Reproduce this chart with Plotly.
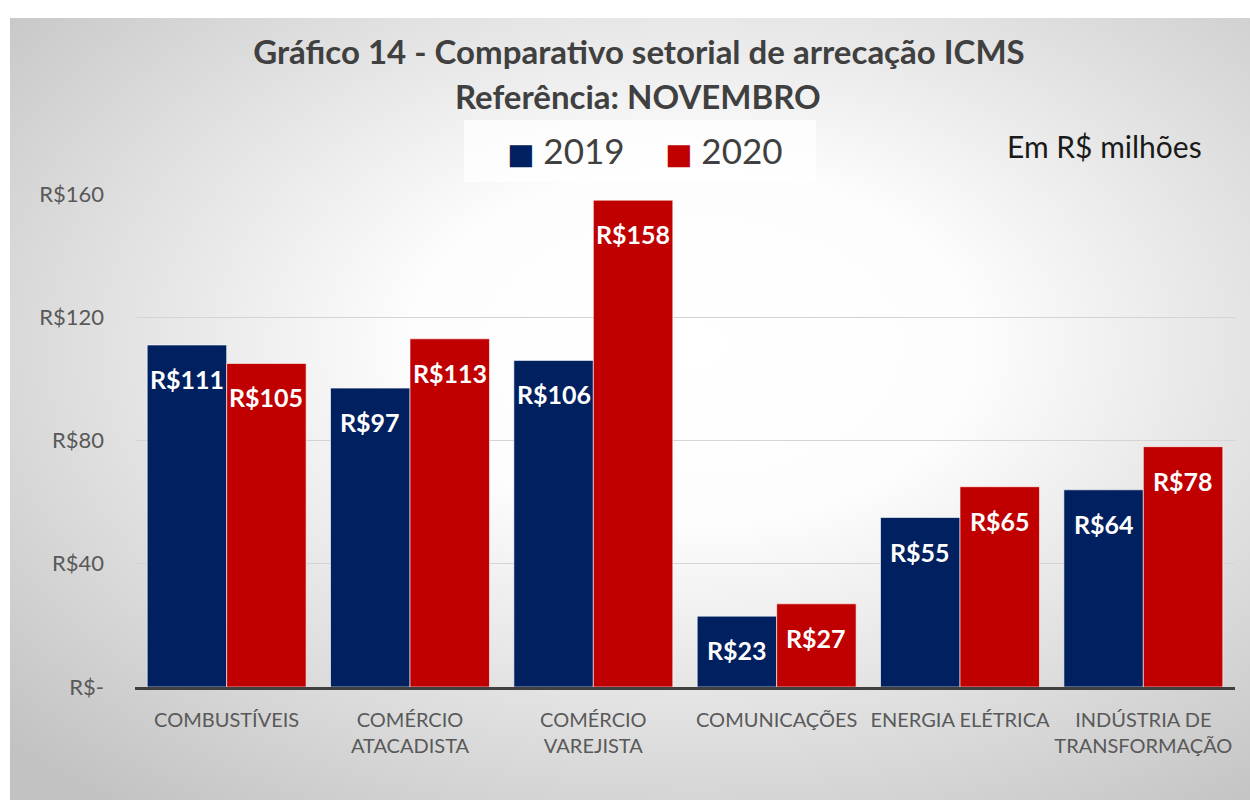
import base64
import plotly.graph_objects as go

# ---------------- data ----------------
categories = ["COMBUSTÍVEIS", "COMÉRCIO<br>ATACADISTA", "COMÉRCIO<br>VAREJISTA",
              "COMUNICAÇÕES", "ENERGIA ELÉTRICA", "INDÚSTRIA DE<br>TRANSFORMAÇÃO"]
series_names = ["2019", "2020"]
values_2019 = [111, 97, 106, 23, 55, 64]
values_2020 = [105, 113, 158, 27, 65, 78]
y_tickvals = [0, 40, 80, 120, 160]
y_ticktext = ["R$-", "R$40", "R$80", "R$120", "R$160"]

# ---------------- style ----------------
W, H = 1250, 800
M_L, M_R, M_T, M_B = 135, 15, 194, 113
PW, PH = W - M_L - M_R, H - M_T - M_B
BARGAP = 0.133
COLORS = ["#002060", "#C00000"]
FONT = "Lato, 'Open Sans', sans-serif"
cat_w = PW / len(categories)
bar_w = cat_w * (1 - BARGAP) / 2


def px_x(px):
    return (px - M_L) / PW


def px_y(py):
    return (H - M_B - py) / PH


fig = go.Figure()
for name, vals, col in zip(series_names, [values_2019, values_2020], COLORS):
    fig.add_trace(go.Bar(
        x=categories, y=vals, name=name,
        marker=dict(color=col, line=dict(color="rgba(255,255,255,0.6)", width=1)),
        showlegend=False, hoverinfo="x+y+name",
    ))

# value labels inside bar tops
annotations = []
for i, vals in enumerate([values_2019, values_2020]):
    shift = (-1 if i == 0 else 1) * bar_w / 2
    for c, v in zip(categories, vals):
        annotations.append(dict(
            x=c, y=v, xref="x", yref="y", xshift=shift, yshift=-34,
            text=f"R${v}", showarrow=False, xanchor="center", yanchor="middle",
            font=dict(family=FONT, size=25, color="white", weight="bold"),
        ))

# second title line
annotations.append(dict(
    x=px_x(638), y=px_y(96), xref="paper", yref="paper", text="Referência: NOVEMBRO",
    showarrow=False, xanchor="center", yanchor="middle",
    font=dict(family=FONT, size=33, color="#404040", weight="bold"),
))
# unit note
annotations.append(dict(
    x=px_x(1104), y=px_y(146), xref="paper", yref="paper", text="Em R$ milhões",
    showarrow=False, xanchor="center", yanchor="middle",
    font=dict(family=FONT, size=30, color="#1a1a1a"),
))
# legend (custom, large swatches)
legend_x = [566, 724]
for name, col, lx in zip(series_names, COLORS, legend_x):
    annotations.append(dict(
        x=px_x(lx), y=px_y(150), xref="paper", yref="paper",
        text=f"<span style='color:{col}; font-family:DejaVu Sans; font-size:29px'>■</span> {name}",
        showarrow=False, xanchor="center", yanchor="middle",
        font=dict(family=FONT, size=35, color="#404040"),
    ))

shapes = [dict(
    type="rect", xref="paper", yref="paper",
    x0=px_x(464), x1=px_x(816), y0=px_y(182), y1=px_y(120),
    fillcolor="rgba(255,255,255,0.75)", line=dict(width=0), layer="below",
)]

# radial gradient chart-area background
svg = ('<svg xmlns="http://www.w3.org/2000/svg" width="1240" height="782" viewBox="0 0 1240 782">'
       '<defs><radialGradient id="g" cx="0.55" cy="0.42" r="0.75">'
       '<stop offset="0" stop-color="#ffffff"/>'
       '<stop offset="0.3" stop-color="#fdfdfd"/>'
       '<stop offset="1" stop-color="#c2c2c2"/>'
       '</radialGradient></defs>'
       '<rect width="1240" height="782" fill="url(#g)"/></svg>')
src = "data:image/svg+xml;base64," + base64.b64encode(svg.encode()).decode()
images = [dict(
    source=src, xref="paper", yref="paper",
    x=px_x(10), y=px_y(18), sizex=(1250 - 10) / PW, sizey=(800 - 18) / PH,
    xanchor="left", yanchor="top", sizing="stretch", layer="below",
)]

fig.update_layout(
    width=W, height=H,
    margin=dict(l=M_L, r=M_R, t=M_T, b=M_B, pad=0),
    paper_bgcolor="white", plot_bgcolor="rgba(0,0,0,0)",
    barmode="group", bargap=BARGAP, bargroupgap=0,
    title=dict(text="Gráfico 14 - Comparativo setorial de arrecação ICMS",
               x=639 / W, xanchor="center", y=1 - 52 / H, yanchor="middle",
               font=dict(family=FONT, size=33, color="#404040", weight="bold")),
    font=dict(family=FONT),
    annotations=annotations, shapes=shapes, images=images,
    xaxis=dict(showline=True, linecolor="#404040", linewidth=3,
               tickfont=dict(family=FONT, size=20, color="#595959"),
               ticks="", showgrid=False, ticklabelstandoff=13),
    yaxis=dict(range=[0, 160], tickvals=y_tickvals, ticktext=y_ticktext,
               tickfont=dict(family=FONT, size=22, color="#595959"),
               showgrid=True, gridcolor="#d4d4d4", gridwidth=1, zeroline=False,
               showline=False, ticks="", ticklabelstandoff=30),
)

fig.write_html("out.html", post_script="document.body.style.margin='0';",
               config={"displayModeBar": False})
